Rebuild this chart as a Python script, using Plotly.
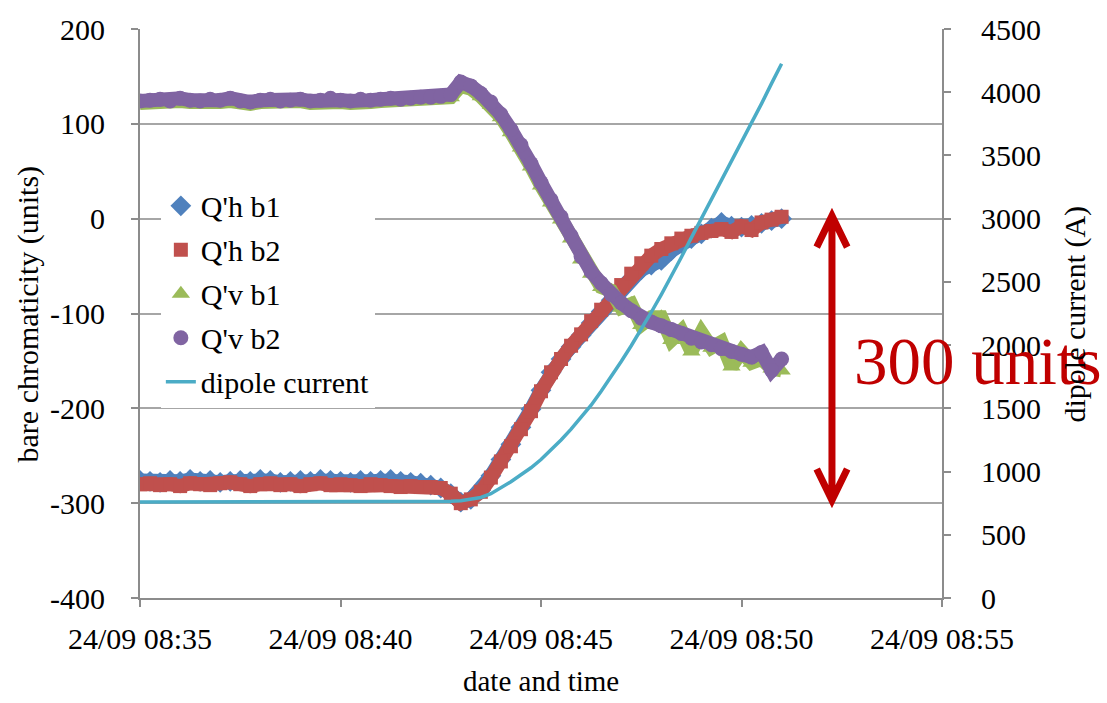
import pandas as pd
import plotly.graph_objects as go

# Sample times: one reading every 15 s from 08:35:00 to 08:51:00 on 24/09
times = pd.date_range("2012-09-24 08:35:00", periods=65, freq="15s")

# Horizontal chromaticity, beam 1 (units)
qh_b1 = [-276, -277, -278, -276, -277, -275, -277, -276, -278, -277,
         -276, -277, -275, -276, -278, -277, -276, -277, -275, -276,
         -277, -278, -276, -277, -276, -275, -277, -278, -279, -281,
         -284, -290, -299, -296, -286, -271, -254, -238, -220, -201,
         -181, -162, -148, -135, -123, -110, -98, -86, -74, -63,
         -54, -49, -44, -34, -26, -21, -16, -10, -4, -8,
         -9, -7, -5, -2, 0]

# Horizontal chromaticity, beam 2 (units)
qh_b2 = [-280, -279, -281, -280, -282, -279, -280, -281, -279, -278,
         -280, -282, -280, -279, -281, -280, -282, -280, -279, -281,
         -280, -281, -282, -280, -281, -282, -283, -282, -283, -283,
         -284, -290, -300, -296, -288, -273, -256, -240, -222, -203,
         -182, -162, -148, -134, -122, -108, -96, -82, -70, -58,
         -47, -39, -32, -26, -21, -18, -15, -13, -11, -14,
         -8, -12, -4, -1, 2]

# Vertical chromaticity, beam 1 (units)
qv_b1 = [122, 123, 124, 122, 124, 123, 122, 123, 123, 124,
         122, 121, 123, 124, 122, 123, 124, 122, 123, 125,
         123, 122, 124, 123, 124, 125, 124, 125, 126, 126,
         127, 128, 140, 137, 129, 120, 107, 91, 75, 55,
         35, 17, -1, -21, -43, -58, -72, -76, -94, -90,
         -112, -104, -104, -128, -118, -140, -120, -136, -130, -156,
         -140, -152, -148, -158, -160]

# Vertical chromaticity, beam 2 (units)
qv_b2 = [124, 125, 126, 124, 127, 125, 124, 126, 125, 127,
         124, 123, 125, 126, 124, 125, 126, 124, 125, 127,
         125, 124, 126, 125, 126, 127, 126, 127, 128, 128,
         129, 131, 144, 140, 132, 123, 110, 94, 78, 58,
         38, 20, 2, -18, -40, -56, -68, -80, -89, -97,
         -105, -109, -113, -117, -121, -126, -130, -133, -137, -140,
         -143, -146, -141, -160, -148]

# Main dipole current (A)
dipole_current = [760] * 31 + [
    765, 770, 780, 795, 825, 870, 920, 975, 1030,
    1095, 1170, 1250, 1335, 1425, 1525, 1635, 1750, 1870, 1995,
    2125, 2260, 2400, 2545, 2695, 2850, 3000, 3150, 3300, 3450,
    3600, 3755, 3910, 4070, 4225]

# Axis ticks
chroma_ticks = [-400, -300, -200, -100, 0, 100, 200]
chroma_labels = ["-400", "-300", "-200", "-100", "0", "100", "200"]
current_ticks = [0, 500, 1000, 1500, 2000, 2500, 3000, 3500, 4000, 4500]

# Span of the chromaticity swing marked by the arrow
swing_units = 300
swing_centre = -147

FONT = "Liberation Serif"
FS = 30
GRID = "#A6A6A6"
AXIS = "#8C8C8C"

fig = go.Figure()

series = [
    ("Q'h b1", qh_b1, "#4F81BD", "diamond", 16),
    ("Q'h b2", qh_b2, "#C0504D", "square", 14),
    ("Q'v b1", qv_b1, "#9BBB59", "triangle-up", 16),
    ("Q'v b2", qv_b2, "#8064A2", "circle", 15),
]
for name, values, color, symbol, size in series:
    # dense readings merge into a continuous band behind the markers
    fig.add_trace(go.Scatter(
        x=times, y=values, mode="lines", showlegend=False, hoverinfo="skip",
        legendgroup=name,
        line=dict(color=color, width=14),
    ))
    fig.add_trace(go.Scatter(
        x=times, y=values, name=name, mode="markers",
        legendgroup=name,
        marker=dict(symbol=symbol, size=size, color=color, line=dict(width=0)),
    ))

fig.add_trace(go.Scatter(
    x=times, y=dipole_current, name="dipole current", mode="lines",
    legendgroup="dipole", yaxis="y2",
    line=dict(color="#4BACC6", width=3.5),
))

# Double-headed arrow showing the swing
arrow_x = 0.8628
top = swing_centre + swing_units / 2
bot = swing_centre - swing_units / 2
dx, dy = 0.019, 33
arrow_path = (
    f"M {arrow_x},{top} L {arrow_x},{bot} "
    f"M {arrow_x - dx},{top - dy} L {arrow_x},{top} L {arrow_x + dx},{top - dy} "
    f"M {arrow_x - dx},{bot + dy} L {arrow_x},{bot} L {arrow_x + dx},{bot + dy}"
)
fig.add_shape(type="path", xref="paper", yref="y", path=arrow_path,
              line=dict(color="#C00000", width=7))

annotations = [
    dict(text=f"{swing_units} units", xref="paper", yref="y",
         x=0.8878, y=swing_centre - 3, xanchor="left", yanchor="middle",
         showarrow=False, font=dict(family=FONT, size=67, color="#C00000")),
    dict(text="bare chromaticity (units)", xref="paper", yref="paper",
         x=-0.1397, y=0.5, textangle=-90, showarrow=False,
         xanchor="center", yanchor="middle",
         font=dict(family=FONT, size=FS, color="black")),
    dict(text="dipole current (A)", xref="paper", yref="paper",
         x=1.1658, y=0.5, textangle=-90, showarrow=False,
         xanchor="center", yanchor="middle",
         font=dict(family=FONT, size=FS, color="black")),
    dict(text="date and time", xref="paper", yref="paper",
         x=0.5, y=-0.146, showarrow=False,
         xanchor="center", yanchor="middle",
         font=dict(family=FONT, size=29, color="black")),
]

tick_style = dict(
    showline=True, linecolor=AXIS, linewidth=2, zeroline=False,
    ticks="outside", ticklen=7, tickcolor=AXIS, tickwidth=1.5,
    tickfont=dict(family=FONT, size=FS, color="black"),
)

fig.update_layout(
    width=1107, height=703,
    margin=dict(l=140, r=165, t=20, b=105),
    paper_bgcolor="white", plot_bgcolor="white",
    font=dict(family=FONT, size=FS, color="black"),
    showlegend=True,
    legend=dict(x=0.026, y=0.735, xanchor="left", yanchor="top",
                bgcolor="white", borderwidth=0, tracegroupgap=2,
                font=dict(family=FONT, size=FS, color="black")),
    xaxis=dict(
        range=["2012-09-24 08:35:00", "2012-09-24 08:55:00"],
        tickvals=pd.date_range("2012-09-24 08:35", "2012-09-24 08:55", freq="5min"),
        tickformat="%d/%m %H:%M",
        showgrid=False,
        ticklabelstandoff=6,
        **tick_style,
    ),
    yaxis=dict(
        range=[-400, 200], tickvals=chroma_ticks, ticktext=chroma_labels,
        showgrid=True, gridcolor=GRID, gridwidth=2,
        ticklabelstandoff=20,
        **tick_style,
    ),
    yaxis2=dict(
        range=[0, 4500], tickvals=current_ticks, overlaying="y", side="right",
        showgrid=False,
        ticklabelstandoff=24,
        **tick_style,
    ),
    annotations=annotations,
)

fig.write_html("out.html")
